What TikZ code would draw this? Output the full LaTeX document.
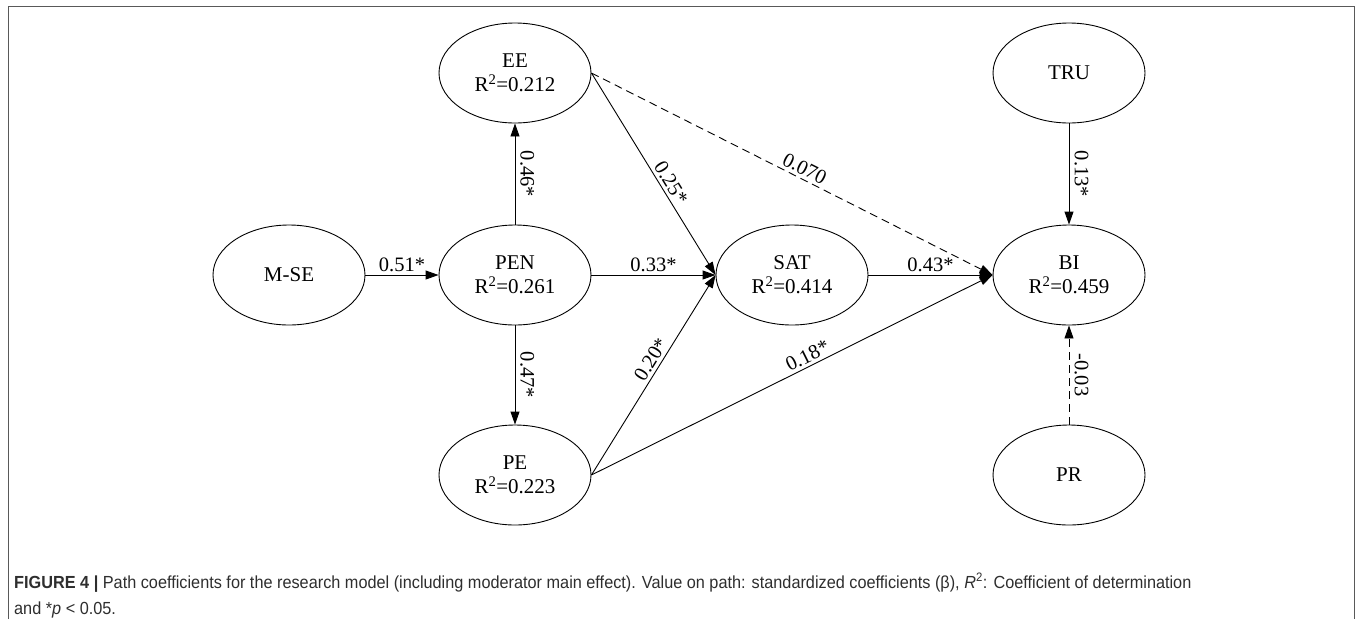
\documentclass[tikz,border=0pt]{standalone}
\usepackage{fontspec}
\setmainfont{Liberation Serif}
\newfontfamily\capfont[FakeStretch=0.93]{Liberation Sans}
\usetikzlibrary{shapes.geometric,arrows.meta}
\begin{document}
\begin{tikzpicture}[x=1pt,y=-1pt,
  lv/.style={draw=black, line width=0.9pt, ellipse, minimum width=152pt, minimum height=100pt, inner sep=0pt, align=center, font=\fontsize{21}{24}\selectfont},
  arr/.style={draw=black, line width=0.9pt, -{Triangle[length=13pt,width=9pt]}},
  dsh/.style={arr, dash pattern=on 8pt off 5pt},
  lab/.style={font=\fontsize{20.5}{24}\selectfont, inner sep=3pt},
  vlab/.style={lab, rotate=-90, anchor=south, inner sep=5pt},
  captxt/.style={anchor=base west, inner sep=0pt, text=black!82, font=\capfont\fontsize{17.5}{26}\selectfont},
]
\useasboundingbox (0,0) rectangle (1357,619);
\draw[black!65, line width=1pt] (8,619) -- (8,6) -- (1354,6) -- (1354,619);

\node[lv] (mse) at (289,275) {M-SE};
\node[lv] (pen) at (515,275) {PEN\\R\textsuperscript{2}=0.261};
\node[lv] (ee)  at (515,73)  {EE\\R\textsuperscript{2}=0.212};
\node[lv] (pe)  at (515,475) {PE\\R\textsuperscript{2}=0.223};
\node[lv] (sat) at (792,275) {SAT\\R\textsuperscript{2}=0.414};
\node[lv] (bi)  at (1069,275) {BI\\R\textsuperscript{2}=0.459};
\node[lv] (tru) at (1069,73) {TRU};
\node[lv] (pr)  at (1069,475) {PR};

\draw[arr] (mse) -- node[lab, above]{0.51*} (pen);
\draw[arr] (pen) -- node[lab, above]{0.33*} (sat);
\draw[arr] (sat) -- node[lab, above]{0.43*} (bi);
\draw[arr] (pen) -- node[vlab]{0.46*} (ee);
\draw[arr] (pen) -- node[vlab]{0.47*} (pe);
\draw[arr] (tru) -- node[vlab]{0.13*} (bi);
\draw[dsh] (pr) -- node[vlab]{-0.03} (bi);
\draw[arr] (ee.east) -- node[lab, sloped, above, pos=0.57]{0.25*} (sat.west);
\draw[dsh] (ee.east) -- node[lab, sloped, above, pos=0.52]{0.070} (bi.west);
\draw[arr] (pe.east) -- node[lab, sloped, above, pos=0.55]{0.20*} (sat.west);
\draw[arr] (pe.east) -- node[lab, sloped, above, pos=0.55]{0.18*} (bi.west);

\node[captxt] (cap1) at (14,588) {\textbf{FIGURE 4 |} Path coefficients for the research model (including moderator main effect). Value on path: standardized coefficients (β), \textit{R}\textsuperscript{2}: Coefficient of determination};
\node[captxt] (cap2) at (14,614) {and *\textit{p} < 0.05.};
\end{tikzpicture}
\end{document}
